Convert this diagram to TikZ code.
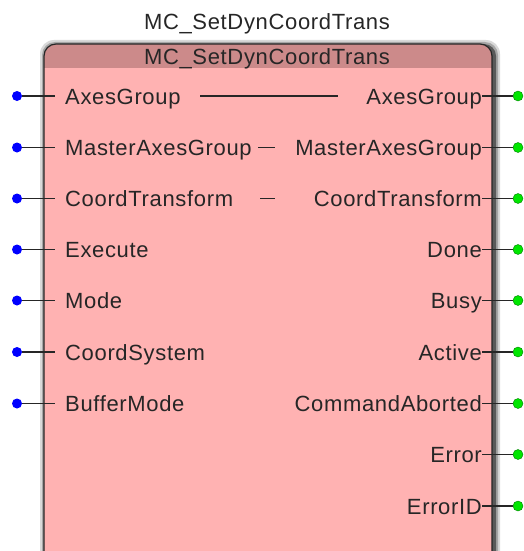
\documentclass[tikz,border=0pt]{standalone}
\usepackage{fontspec}
\setmainfont[LetterSpace=3]{Liberation Sans}
\definecolor{body}{RGB}{255,178,178}
\definecolor{head}{RGB}{204,138,138}
\definecolor{pinin}{RGB}{0,0,255}
\definecolor{pinout}{RGB}{0,230,0}
\begin{document}
\begin{tikzpicture}[x=1pt,y=-1pt,
  lbl/.style={inner sep=0pt,font=\fontsize{22}{26}\selectfont,text=black!85},
  inlbl/.style={lbl,anchor=base west},
  outlbl/.style={lbl,anchor=base east},
  indot/.style={circle,fill=pinin,inner sep=0pt,minimum size=10pt},
  outdot/.style={circle,fill=pinout,draw=green!50!black,line width=0.4pt,inner sep=0pt,minimum size=10pt},
  pin/.style={line width=1.4pt,black!85},
  thru/.style={line width=1.4pt,black!85}]
\useasboundingbox (0,0) rectangle (524,551);
\clip (0,0) rectangle (524,551);
% shadow
\fill[black!15, rounded corners=14] (40,40) rectangle (500,580);
\fill[black!35, rounded corners=13] (42,42) rectangle (498,580);
\fill[black!65, rounded corners=12] (44,44) rectangle (496,580);
% body
\begin{scope}
\clip[rounded corners=12] (44,44) rectangle (492,580);
\fill[body] (44,44) rectangle (492,580);
\fill[head] (44,44) rectangle (492,68);
\end{scope}
\draw[line width=1.2pt, black!85, rounded corners=12] (44,44) rectangle (492,580);
% titles
\node[lbl,anchor=base] (title) at (267,30) {MC\_SetDynCoordTrans};
\node[lbl,anchor=base] (head) at (267,64) {MC\_SetDynCoordTrans};
% inputs
\foreach \n/\t/\y in {i1/AxesGroup/96, i2/MasterAxesGroup/147.5, i3/CoordTransform/198.5, i4/Execute/249.5, i5/Mode/300.5, i6/CoordSystem/352, i7/BufferMode/403.5}{
  \node[inlbl] (\n) at (65,\y+8) {\t};
  \node[indot] (\n d) at (17,\y) {};
  \draw[pin, shorten >=10pt] (\n d) -- (\n d -| \n.west);
}
% outputs
\foreach \n/\t/\y in {o1/AxesGroup/96, o2/MasterAxesGroup/147.5, o3/CoordTransform/198.5, o4/Done/249.5, o5/Busy/300.5, o6/Active/352, o7/CommandAborted/403.5, o8/Error/454.5, o9/ErrorID/506}{
  \node[outlbl] (\n) at (482,\y+8) {\t};
  \node[outdot] (\n d) at (518,\y) {};
  \draw[pin] (\n d -| \n.east) -- (\n d);
}
% in-out links
\coordinate (a1) at (200,96); \coordinate (b1) at (338,96);
\coordinate (a2) at (258,147.5); \coordinate (b2) at (275,147.5);
\coordinate (a3) at (260,198.5); \coordinate (b3) at (275,198.5);
\draw[thru] (a1) -- (b1);
\draw[thru] (a2) -- (b2);
\draw[thru] (a3) -- (b3);
\end{tikzpicture}
\end{document}
